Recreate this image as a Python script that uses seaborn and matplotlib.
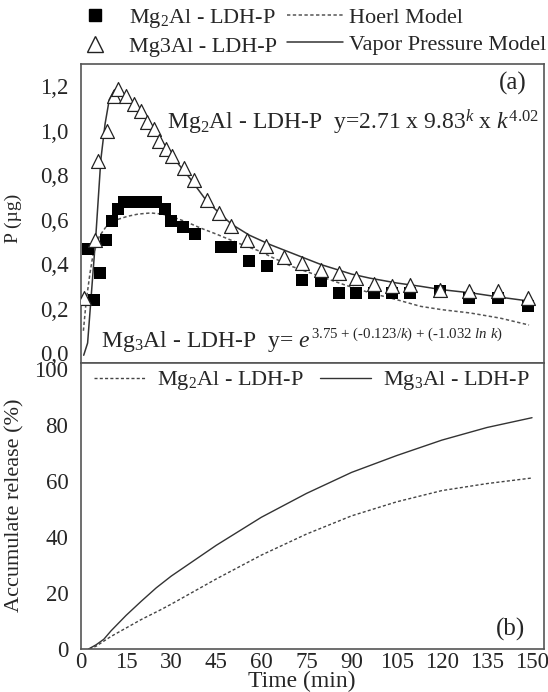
import matplotlib
matplotlib.use("Agg")
import matplotlib.pyplot as plt
from matplotlib.lines import Line2D
import seaborn as sns

# panel (a): measured points
t_mg2 = [2.2, 4.4, 6.4, 8.3, 10.2, 12.2, 14.4, 17.1, 19.9, 22.7, 24.9, 27.9, 29.9, 34.0, 37.9,
         46.5, 50.0, 55.9, 62.0, 73.6, 79.7, 85.7, 91.6, 97.6, 103.4, 109.5, 119.5, 129.2, 138.8, 148.8]
p_mg2 = [0.47, 0.24, 0.36, 0.51, 0.595, 0.65, 0.68, 0.68, 0.68, 0.68, 0.68, 0.65, 0.595, 0.565, 0.537,
         0.477, 0.477, 0.416, 0.39, 0.33, 0.326, 0.27, 0.27, 0.27, 0.27, 0.27, 0.28, 0.247, 0.247, 0.21]

t_mg3 = [1.1, 4.6, 5.5, 8.8, 11.0, 12.2, 15.0, 17.7, 20.0, 22.1, 24.3, 26.0, 28.2, 30.4, 34.3, 37.6,
         42.0, 45.9, 49.8, 55.3, 61.4, 67.5, 73.6, 79.7, 85.7, 91.6, 97.6, 103.4, 109.5, 119.5, 129.2,
         138.8, 148.8]
p_mg3 = [0.247, 0.51, 0.863, 1.0, 1.156, 1.186, 1.156, 1.12, 1.09, 1.04, 1.006, 0.953, 0.916, 0.885,
         0.833, 0.78, 0.69, 0.63, 0.57, 0.51, 0.48, 0.434, 0.405, 0.374, 0.36, 0.337, 0.31, 0.302, 0.307,
         0.284, 0.28, 0.28, 0.247]

# panel (a): model curves
t_vp = [0.9, 2.2, 3.3, 5.0, 6.6, 8.0, 9.4, 11.0, 12.5, 15, 20, 25, 30, 36, 42, 50, 56, 63, 70, 80,
        90, 96, 105, 113, 120, 130, 140, 150]
p_vp = [-0.01, 0.045, 0.24, 0.54, 0.87, 1.03, 1.14, 1.18, 1.18, 1.16, 1.09, 0.99, 0.89, 0.79, 0.68,
        0.58, 0.53, 0.487, 0.45, 0.397, 0.355, 0.337, 0.315, 0.30, 0.285, 0.27, 0.25, 0.232]

t_hoerl = [0.8, 1.7, 3.0, 3.9, 6.1, 8.8, 12, 15.5, 19, 23.2, 27, 29.9, 35, 39.8, 45, 50.9, 55, 59.7,
           63, 70, 79.7, 88, 96.3, 105, 112.9, 120, 129.5, 139.4, 149]
p_hoerl = [0.1, 0.23, 0.36, 0.434, 0.525, 0.577, 0.60, 0.615, 0.625, 0.63, 0.625, 0.615, 0.59, 0.562,
           0.535, 0.502, 0.48, 0.457, 0.434, 0.39, 0.344, 0.305, 0.27, 0.24, 0.21, 0.195, 0.18, 0.157,
           0.126]

# panel (b): accumulated release (%)
t_rel2 = [2.8, 5, 10, 15, 20, 26.5, 30, 45, 60, 75, 90, 105, 120, 135, 150]
rel_mg2 = [0, 1, 4.5, 7.5, 10.5, 14, 16, 25, 33.5, 41, 47.5, 52.5, 56.5, 59, 61]
t_rel3 = [2.5, 5, 7.6, 10, 15, 20, 25, 30, 45, 60, 75, 90, 105, 120, 135, 150]
rel_mg3 = [0, 1.5, 3.5, 6.5, 12, 17, 21.8, 26, 37, 47, 55.5, 63, 69, 74.5, 79, 82.5]

yticks_a = [0.0, 0.2, 0.4, 0.6, 0.8, 1.0, 1.2]
yticks_b = [0, 20, 40, 60, 80, 100]
xticks = [0, 15, 30, 45, 60, 75, 90, 105, 120, 135, 150]

sns.set_style("white")
plt.rcParams['font.family'] = ['Liberation Serif', 'DejaVu Serif']
plt.rcParams['mathtext.fontset'] = 'custom'
plt.rcParams['mathtext.rm'] = 'Liberation Serif'
plt.rcParams['mathtext.it'] = 'Liberation Serif:italic'
plt.rcParams['axes.edgecolor'] = '#555555'
plt.rcParams['axes.linewidth'] = 1.2

fig = plt.figure(figsize=(5.48, 6.92), dpi=100)
ax1 = fig.add_axes([0.1478, 0.4754, 0.845, 0.4321])
ax2 = fig.add_axes([0.1478, 0.0621, 0.845, 0.4133])

dots = (0, (2.2, 1.6))
tick_fs = 16.5

# panel (a)
sns.lineplot(x=t_vp, y=p_vp, ax=ax1, color='#333333', lw=1.1, sort=False)
sns.lineplot(x=t_hoerl, y=p_hoerl, ax=ax1, color='#555555', lw=1.1, linestyle=dots, sort=False)
sns.scatterplot(x=t_mg2, y=p_mg2, ax=ax1, marker='s', s=80, color='black', linewidth=0, zorder=3)
sns.scatterplot(x=t_mg3, y=p_mg3, ax=ax1, marker='^', s=100, facecolor='white', edgecolor='#222222',
                linewidth=0.9, zorder=4)

ax1.set_xlim(0, 154)
ax1.set_ylim(-0.045, 1.3)
ax1.set_xticks([])
ax1.set_yticks(yticks_a)
ax1.set_yticklabels([f"{v:.1f}".replace('.', ',') for v in yticks_a], fontsize=tick_fs)
ax1.tick_params(axis='y', length=0, pad=9)
ax1.set_ylabel("P (µg)", fontsize=14)
ax1.yaxis.set_label_coords(-0.127, 0.485)
ax1.text(143.7, 1.213, "(a)", fontsize=18, ha='center', va='center')
ax1.text(28.5, 1.005, r"Mg$_2$Al - LDH-P  y=2.71 x 9.83$^{k}$ x $k^{4.02}$",
         fontsize=17, ha='left', va='baseline')
ax1.text(6.5, 0.027, r"Mg$_3$Al - LDH-P  y= $e$", fontsize=17, ha='left', va='baseline')
ax1.text(76.5, 0.068, r"3.75 + (-0.123/$k$) + (-1.032 $ln$ $k$)", fontsize=10.7,
         ha='left', va='baseline')

# panel (b)
sns.lineplot(x=t_rel2, y=rel_mg2, ax=ax2, color='#444444', lw=1.0, linestyle=dots,
             label=r"Mg$_2$Al - LDH-P")
sns.lineplot(x=t_rel3, y=rel_mg3, ax=ax2, color='#333333', lw=1.0, label=r"Mg$_3$Al - LDH-P")
ax2.set_xlim(0, 154)
ax2.set_ylim(0, 102)
ax2.set_xticks(xticks)
ax2.set_xticklabels([str(v) for v in xticks], fontsize=tick_fs)
ax2.set_yticks(yticks_b)
ax2.set_yticklabels([str(v) for v in yticks_b], fontsize=tick_fs)
ax2.tick_params(axis='x', length=0, pad=2)
ax2.tick_params(axis='y', length=0, pad=9)
ax2.set_xlabel("Time (min)", fontsize=17)
ax2.xaxis.set_label_coords(0.477, -0.076)
ax2.set_ylabel("Accumulate release (%)", fontsize=16)
ax2.yaxis.set_label_coords(-0.123, 0.503)
ax2.text(143, 7.1, "(b)", fontsize=18, ha='center', va='center')
ax2.legend(loc='upper left', bbox_to_anchor=(0.028, 0.978), ncol=2, frameon=False, fontsize=16,
           borderpad=0, borderaxespad=0, handlelength=2.3, columnspacing=0.7, handletextpad=0.55)

# top legend
handles = [
    Line2D([], [], marker='s', color='black', linestyle='none', markersize=8.5),
    Line2D([], [], marker='^', markerfacecolor='white', markeredgecolor='#222222', color='black',
           linestyle='none', markersize=11),
    Line2D([], [], color='#555555', lw=1.1, linestyle=dots),
    Line2D([], [], color='#333333', lw=1.1),
]
labels = [r"Mg$_2$Al - LDH-P", "Mg3Al - LDH-P", "Hoerl Model", "Vapor Pressure Model"]
fig.legend(handles, labels, loc='upper left', bbox_to_anchor=(0.122, 0.99), ncol=2, frameon=False,
           fontsize=16, borderpad=0, borderaxespad=0, handlelength=2.5, columnspacing=0.45,
           handletextpad=0.3, labelspacing=0.3)

fig.savefig("out.png", dpi=100)
